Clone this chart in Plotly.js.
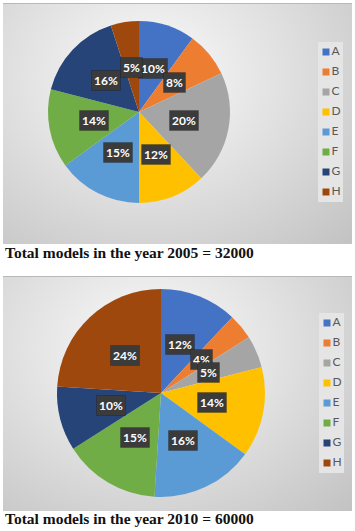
<!DOCTYPE html>
<html>
<head>
<meta charset="utf-8">
<script src="https://cdn.plot.ly/plotly-3.0.1.min.js"></script>
<style>
  html, body { margin: 0; padding: 0; background: #ffffff; }
  #wrap { position: relative; width: 355px; height: 531px; overflow: hidden; }
  .panel { position: absolute; left: 3px; width: 349px; border-top: 1px solid #b8b8b8;
           background: radial-gradient(ellipse farthest-corner at 42% 30%, #fbfbfb 0%, #e2e2e2 45%, #c2c2c2 100%); }
  #chart { position: absolute; left: 0; top: 0; width: 355px; height: 531px; }
</style>
</head>
<body>
<div id="wrap">
  <div class="panel" style="top:3px;height:240px;"></div>
  <div class="panel" style="top:276px;height:234px;"></div>
  <div id="chart"></div>
</div>
<script>
// ---- data ----
const categories = ['A', 'B', 'C', 'D', 'E', 'F', 'G', 'H'];
const sliceColors = ['#4472C4', '#ED7D31', '#A5A5A5', '#FFC000', '#5B9BD5', '#70AD47', '#264478', '#9E480E'];
const share2005 = [10, 8, 20, 12, 15, 14, 16, 5];
const share2010 = [12, 4, 5, 14, 16, 15, 10, 24];
const caption2005 = 'Total models in the year 2005 = 32000';
const caption2010 = 'Total models in the year 2010 = 60000';

// ---- layout geometry (pixels) ----
const W = 355, H = 531;
const px = (a, b) => [a / W, b / W];
const py = (top, bottom) => [1 - bottom / H, 1 - top / H];

const pies = [
  { values: share2005, dom: { x: px(48, 230), y: py(21, 203) } },
  { values: share2010, dom: { x: px(57, 265), y: py(289, 497) } }
];
const legends = [
  { x: px(318, 343), y: py(42, 202) },
  { x: px(319, 344), y: py(313, 473) }
];
const captions = [
  { text: caption2005, yPx: 252 },
  { text: caption2010, yPx: 518 }
];

const data = [];
const annotations = [];
const labelFont = { family: 'Lato, "Open Sans", sans-serif', size: 12, color: '#ffffff', weight: 'bold' };

pies.forEach((p) => {
  data.push({
    type: 'pie',
    labels: categories,
    values: p.values,
    sort: false,
    direction: 'clockwise',
    rotation: 0,
    marker: { colors: sliceColors, line: { width: 0 } },
    textinfo: 'none',
    hoverinfo: 'skip',
    showlegend: false,
    domain: p.dom
  });
  // percentage labels at half the radius on each slice's mid angle
  const wPx = (p.dom.x[1] - p.dom.x[0]) * W;
  const hPx = (p.dom.y[1] - p.dom.y[0]) * H;
  const r = Math.min(wPx, hPx) / 2;
  const cx = (p.dom.x[0] + p.dom.x[1]) / 2;
  const cy = (p.dom.y[0] + p.dom.y[1]) / 2;
  const total = p.values.reduce((s, v) => s + v, 0);
  let cum = 0;
  p.values.forEach((v) => {
    const mid = (cum + v / 2) / total * 2 * Math.PI;
    cum += v;
    annotations.push({
      xref: 'paper', yref: 'paper',
      x: cx + 0.5 * r * Math.sin(mid) / W,
      y: cy + 0.5 * r * Math.cos(mid) / H,
      xanchor: 'center', yanchor: 'middle',
      text: Math.round(v / total * 100) + '%',
      showarrow: false,
      bgcolor: '#3b3b3b', borderpad: 2,
      bordercolor: 'rgba(0,0,0,0.18)', borderwidth: 1,
      font: labelFont
    });
  });
});

const layout = {
  width: W, height: H,
  margin: { l: 0, r: 0, t: 0, b: 0 },
  paper_bgcolor: 'rgba(0,0,0,0)',
  plot_bgcolor: '#e5e5e5',
  showlegend: false,
  annotations: annotations
};

// legends drawn as square markers on a category axis
legends.forEach((lg, k) => {
  const sx = k === 0 ? '' : String(k + 1);
  data.push({
    type: 'scatter',
    mode: 'markers+text',
    x: categories.map(() => 0),
    y: categories,
    xaxis: 'x' + sx, yaxis: 'y' + sx,
    marker: { symbol: 'square', size: 7, color: sliceColors, line: { width: 0 } },
    text: categories,
    textposition: 'middle right',
    textfont: { family: 'Lato, "Open Sans", sans-serif', size: 12, color: '#595959' },
    hoverinfo: 'skip',
    cliponaxis: false,
    showlegend: false
  });
  const boxW = (lg.x[1] - lg.x[0]) * W;
  layout['xaxis' + sx] = { domain: lg.x, range: [-8 / boxW, (boxW - 8) / boxW], visible: false, fixedrange: true, anchor: 'y' + sx };
  layout['yaxis' + sx] = { domain: lg.y, type: 'category', categoryorder: 'array', categoryarray: categories,
                           range: [categories.length - 0.5, -0.5], visible: false, fixedrange: true, anchor: 'x' + sx };
});

captions.forEach((c) => {
  annotations.push({
    xref: 'paper', yref: 'paper',
    x: 3 / W, y: 1 - c.yPx / H,
    xanchor: 'left', yanchor: 'middle',
    text: '<b>' + c.text + '</b>',
    showarrow: false,
    font: { family: '"Liberation Serif", serif', size: 15.5, color: '#111111' }
  });
});

Plotly.newPlot('chart', data, layout, { displayModeBar: false, staticPlot: true });
</script>
</body>
</html>
